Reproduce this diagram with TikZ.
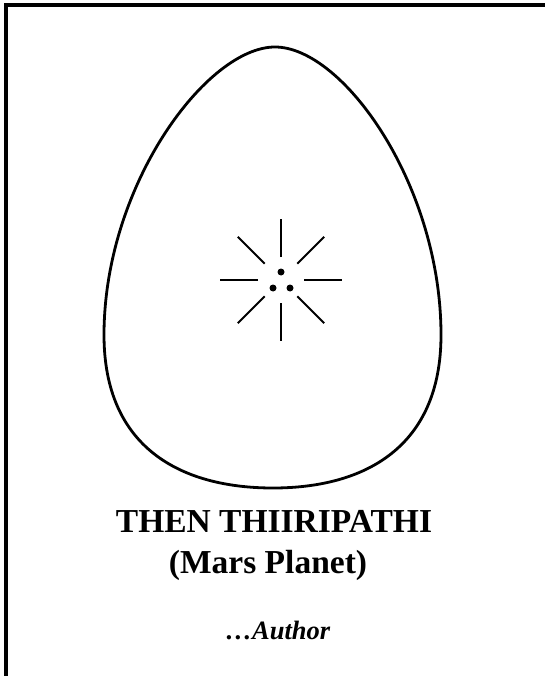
\documentclass[tikz,border=0pt]{standalone}
\usepackage{fontspec}
\setmainfont{Liberation Serif}
\usetikzlibrary{positioning}

\begin{document}
\begin{tikzpicture}[x=1pt,y=-1pt,
  ray/.style={line width=1.9pt},
  seed/.style={circle, fill, inner sep=0pt, minimum size=7pt},
  title/.style={font=\fontsize{33.5}{38}\selectfont\bfseries}]
\useasboundingbox (0,0) rectangle (545,676);
% frame
\draw[line width=4.5pt] (6,676) -- (6,5) -- (545,5);
% egg
\draw[line width=2.8pt] (275,47) .. controls (343,47) and (441,185) .. (441,335)
  .. controls (441,447) and (365,488) .. (273,488)
  .. controls (180,488) and (104,447) .. (104,335)
  .. controls (104,185) and (207,47) .. (275,47) -- cycle;
% star with three seeds
\coordinate (star) at (281,280);
\foreach \a in {0,45,...,315}
  \draw[ray, shift={(star)}] (\a:23) -- (\a:61);
\node[seed] (s1) at ([shift={(0,-8)}]star) {};
\node[seed] (s2) at ([shift={(-8,8)}]star) {};
\node[seed] (s3) at ([shift={(9,8)}]star) {};
% captions
\node[title] (name) at (274,521) {THEN THIIRIPATHI};
\node[title] (planet) at (268,565) {(Mars Planet)};
\node[font=\fontsize{26.5}{30}\selectfont\bfseries\itshape] (author) at (278,630) {\ldots Author};
\end{tikzpicture}
\end{document}
